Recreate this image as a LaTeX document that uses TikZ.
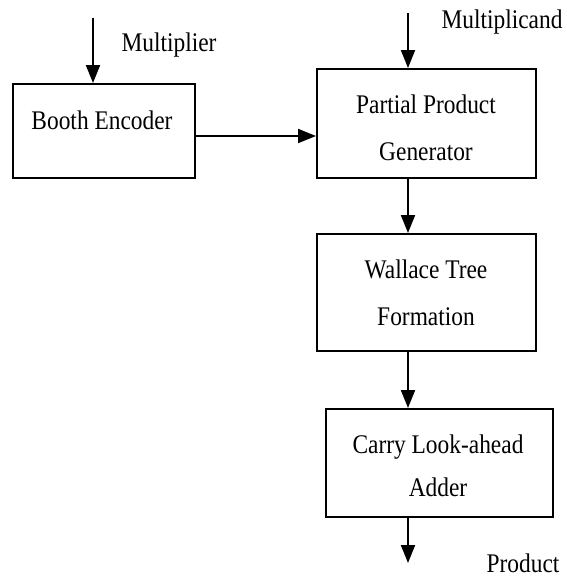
\documentclass[tikz,border=0pt]{standalone}
\usepackage{fontspec}
\setmainfont{Liberation Serif}[FakeStretch=0.87]
\usetikzlibrary{arrows.meta}
\begin{document}
\begin{tikzpicture}[x=1pt,y=1pt,
  box/.style={draw=black,line width=2pt,inner sep=0pt,anchor=north west},
  txt/.style={font=\fontsize{26.9}{47}\selectfont,align=center,inner sep=0pt},
  arr/.style={line width=2pt,-{Triangle[length=18pt,width=14pt]}}]
\useasboundingbox (0,0) rectangle (566,-579);
% boxes
\node[box,minimum width=182pt,minimum height=94pt] (be) at (12,-83) {};
\node[box,minimum width=219pt,minimum height=109pt] (ppg) at (316,-68) {};
\node[box,minimum width=219pt,minimum height=117pt] (wt) at (316,-233) {};
\node[box,minimum width=227pt,minimum height=108pt] (cla) at (325,-408) {};
% box texts
\node[txt] (bet) at (102,-120) {Booth Encoder};
\node[txt] (ppgt) at (426,-128) {Partial Product\\Generator};
\node[txt] (wtt) at (426,-293) {Wallace Tree\\Formation};
\node[txt,font=\fontsize{26.9}{43}\selectfont] (clat) at (438,-466) {Carry Look-ahead\\Adder};
% labels
\node[txt] (lm) at (169,-45) {Multiplier};
\node[txt] (lmc) at (502,-22) {Multiplicand};
\node[txt] (lp) at (523,-563) {Product};
% arrows
\coordinate (m1) at (93,-18);
\coordinate (m2) at (408,-13);
\coordinate (pout) at (408,-563);
\draw[arr] (m1) -- (m1 |- be.north);
\draw[arr] (m2) -- (m2 |- ppg.north);
\draw[arr] ([yshift=-5pt]be.east) -- ([yshift=-5pt]be.east -| ppg.west);
\draw[arr] (m2 |- ppg.south) -- (m2 |- wt.north);
\draw[arr] (m2 |- wt.south) -- (m2 |- cla.north);
\draw[arr] (m2 |- cla.south) -- (pout);
\end{tikzpicture}
\end{document}
